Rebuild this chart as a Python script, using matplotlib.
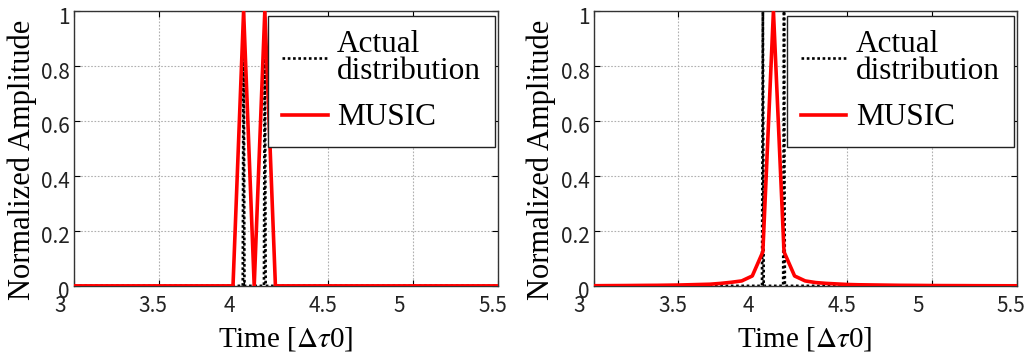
import numpy as np
import matplotlib
matplotlib.use("Agg")
import matplotlib.pyplot as plt
import matplotlib.transforms as mtransforms

plt.rcParams['mathtext.fontset'] = 'stix'

# MUSIC estimate sampled every 0.0625 between 3 and 5.5
t_music = np.arange(41) * 0.0625 + 3.0

music_left = np.zeros(41)
music_left[16] = 1.0   # 4.0
music_left[18] = 1.0   # 4.125

music_right = np.array([
    0.0005, 0.0008, 0.001, 0.0012, 0.0015, 0.0018, 0.002, 0.0025, 0.003,
    0.004, 0.005, 0.006, 0.009, 0.013, 0.018, 0.036, 0.124,
    1.0,
    0.124, 0.036, 0.018, 0.012, 0.009, 0.007, 0.005, 0.004, 0.0035,
    0.003, 0.0025, 0.002, 0.0018, 0.0015, 0.0012, 0.001, 0.0009,
    0.0008, 0.0006, 0.0005, 0.0004, 0.0003, 0.0003,
])

# actual delays: two impulses
t_actual = [3.0, 3.995, 4.0, 4.005, 4.12, 4.125, 4.13, 5.5]
amp_actual = [0, 0, 1, 0, 0, 1, 0, 0]

xticks = [3, 3.5, 4, 4.5, 5, 5.5]
yticks = [0, 0.2, 0.4, 0.6, 0.8, 1]

fig = plt.figure(figsize=(10.27, 3.56), dpi=100)
ax1 = fig.add_axes([0.072, 0.197, 0.413, 0.772])
ax2 = fig.add_axes([0.578, 0.197, 0.412, 0.772])

xoff = mtransforms.ScaledTranslation(-0.20, -0.05, fig.dpi_scale_trans)
yoff = mtransforms.ScaledTranslation(0, -0.04, fig.dpi_scale_trans)

for ax, music in [(ax1, music_left), (ax2, music_right)]:
    ax.grid(True, color='#b0b0b0', linestyle=(0, (1.5, 1.5)), linewidth=0.8)
    ax.plot(t_actual, amp_actual, color='black', linestyle=(0, (1, 1)),
            linewidth=1.9, label='Actual\ndistribution', zorder=2)
    ax.plot(t_music, music, color='#ff0000', linewidth=2.6, label='MUSIC', zorder=3)
    ax.set_xlim(3, 5.5)
    ax.set_ylim(0, 1)
    ax.set_xticks(xticks)
    ax.set_xticklabels(['3', '3.5', '4', '4.5', '5', '5.5'])
    ax.set_yticks(yticks)
    ax.set_yticklabels(['0', '0.2', '0.4', '0.6', '0.8', '1'])
    ax.tick_params(direction='in', top=True, right=True, length=4,
                   labelsize=15, pad=3, labelcolor='#222222')
    for lab in ax.get_xticklabels():
        lab.set_fontfamily('Noto Sans CJK JP')
        lab.set_horizontalalignment('left')
        lab.set_transform(lab.get_transform() + xoff)
    for lab in ax.get_yticklabels():
        lab.set_fontfamily('Noto Sans CJK JP')
        lab.set_transform(lab.get_transform() + yoff)
    for s in ax.spines.values():
        s.set_linewidth(1.0)
        s.set_color('#333333')
    ax.set_xlabel(r'Time [$\Delta\tau$0]', fontsize=21,
                  fontfamily='Liberation Serif', labelpad=6)
    ax.set_ylabel('Normalized Amplitude', fontsize=22,
                  fontfamily='Liberation Serif', labelpad=3)
    ax.yaxis.label.set_y(0.46)
    leg = ax.legend(loc='upper right', bbox_to_anchor=(0.993, 0.982),
                    prop={'family': 'Liberation Serif', 'size': 22.5},
                    fancybox=False, framealpha=1, edgecolor='#222222',
                    handlelength=1.45, handletextpad=0.3, labelspacing=0.55,
                    borderpad=0.45, borderaxespad=0)
    leg.get_frame().set_linewidth(1.0)
    for txt in leg.get_texts():
        txt.set_linespacing(0.92)

fig.savefig('out.png', dpi=100)
